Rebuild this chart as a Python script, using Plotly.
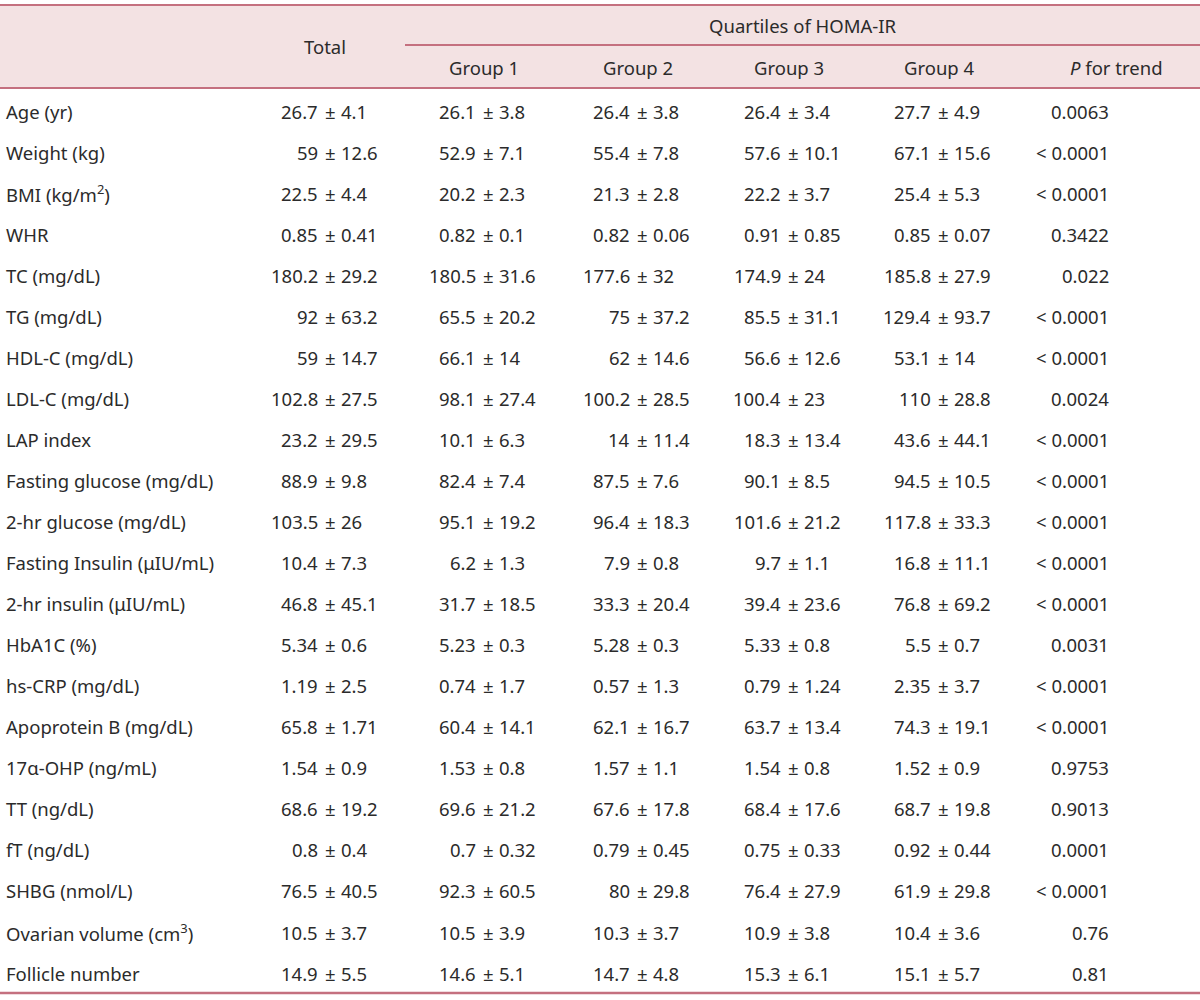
import plotly.graph_objects as go

# ---------------- data ----------------
row_labels = [
    "Age (yr)", "Weight (kg)", "BMI (kg/m<sup>2</sup>)", "WHR", "TC (mg/dL)", "TG (mg/dL)",
    "HDL-C (mg/dL)", "LDL-C (mg/dL)", "LAP index", "Fasting glucose (mg/dL)",
    "2-hr glucose (mg/dL)", "Fasting Insulin (μIU/mL)", "2-hr insulin (μIU/mL)",
    "HbA1C (%)", "hs-CRP (mg/dL)", "Apoprotein B (mg/dL)", "17α-OHP (ng/mL)",
    "TT (ng/dL)", "fT (ng/dL)", "SHBG (nmol/L)", "Ovarian volume (cm<sup>3</sup>)",
    "Follicle number",
]
total = ["26.7 ± 4.1", "59 ± 12.6", "22.5 ± 4.4", "0.85 ± 0.41", "180.2 ± 29.2", "92 ± 63.2",
         "59 ± 14.7", "102.8 ± 27.5", "23.2 ± 29.5", "88.9 ± 9.8", "103.5 ± 26", "10.4 ± 7.3",
         "46.8 ± 45.1", "5.34 ± 0.6", "1.19 ± 2.5", "65.8 ± 1.71", "1.54 ± 0.9", "68.6 ± 19.2",
         "0.8 ± 0.4", "76.5 ± 40.5", "10.5 ± 3.7", "14.9 ± 5.5"]
group1 = ["26.1 ± 3.8", "52.9 ± 7.1", "20.2 ± 2.3", "0.82 ± 0.1", "180.5 ± 31.6", "65.5 ± 20.2",
          "66.1 ± 14", "98.1 ± 27.4", "10.1 ± 6.3", "82.4 ± 7.4", "95.1 ± 19.2", "6.2 ± 1.3",
          "31.7 ± 18.5", "5.23 ± 0.3", "0.74 ± 1.7", "60.4 ± 14.1", "1.53 ± 0.8", "69.6 ± 21.2",
          "0.7 ± 0.32", "92.3 ± 60.5", "10.5 ± 3.9", "14.6 ± 5.1"]
group2 = ["26.4 ± 3.8", "55.4 ± 7.8", "21.3 ± 2.8", "0.82 ± 0.06", "177.6 ± 32", "75 ± 37.2",
          "62 ± 14.6", "100.2 ± 28.5", "14 ± 11.4", "87.5 ± 7.6", "96.4 ± 18.3", "7.9 ± 0.8",
          "33.3 ± 20.4", "5.28 ± 0.3", "0.57 ± 1.3", "62.1 ± 16.7", "1.57 ± 1.1", "67.6 ± 17.8",
          "0.79 ± 0.45", "80 ± 29.8", "10.3 ± 3.7", "14.7 ± 4.8"]
group3 = ["26.4 ± 3.4", "57.6 ± 10.1", "22.2 ± 3.7", "0.91 ± 0.85", "174.9 ± 24", "85.5 ± 31.1",
          "56.6 ± 12.6", "100.4 ± 23", "18.3 ± 13.4", "90.1 ± 8.5", "101.6 ± 21.2", "9.7 ± 1.1",
          "39.4 ± 23.6", "5.33 ± 0.8", "0.79 ± 1.24", "63.7 ± 13.4", "1.54 ± 0.8", "68.4 ± 17.6",
          "0.75 ± 0.33", "76.4 ± 27.9", "10.9 ± 3.8", "15.3 ± 6.1"]
group4 = ["27.7 ± 4.9", "67.1 ± 15.6", "25.4 ± 5.3", "0.85 ± 0.07", "185.8 ± 27.9", "129.4 ± 93.7",
          "53.1 ± 14", "110 ± 28.8", "43.6 ± 44.1", "94.5 ± 10.5", "117.8 ± 33.3", "16.8 ± 11.1",
          "76.8 ± 69.2", "5.5 ± 0.7", "2.35 ± 3.7", "74.3 ± 19.1", "1.52 ± 0.9", "68.7 ± 19.8",
          "0.92 ± 0.44", "61.9 ± 29.8", "10.4 ± 3.6", "15.1 ± 5.7"]
p_trend = ["0.0063", "< 0.0001", "< 0.0001", "0.3422", "0.022", "< 0.0001", "< 0.0001", "0.0024",
           "< 0.0001", "< 0.0001", "< 0.0001", "< 0.0001", "< 0.0001", "0.0031", "< 0.0001",
           "< 0.0001", "0.9753", "0.9013", "0.0001", "< 0.0001", "0.76", "0.81"]
group_headers = ["Total", "Group 1", "Group 2", "Group 3", "Group 4"]
span_header = "Quartiles of HOMA-IR"
p_header = "<i>P</i> for trend"

# ---------------- layout constants ----------------
W, H = 1200, 1000
FONT = "Noto Sans"
FS = 18.5
TXT = "#2b2b2b"
LINE = "#c4707f"
BAND = "#f3e2e3"
col_anchor = [330, 488, 642, 793, 943]   # ± alignment positions
p_right = 1111
p_center = 1116
label_x = 4
row_y0, row_dy = 111, 41.05
top_y, mid_y, head_y, bot_y = 5, 45, 88, 993
span_x0 = 405

fig = go.Figure()
ann = []

def add(x, y, text, xa="center"):
    ann.append(dict(x=x, y=y, xref="x", yref="y", text=text, showarrow=False,
                    xanchor=xa, yanchor="middle",
                    font=dict(family=FONT, size=FS, color=TXT)))

columns = [total, group1, group2, group3, group4]
for i, lab in enumerate(row_labels):
    y = row_y0 + i * row_dy
    add(label_x, y, lab, "left")
    for c, col in enumerate(columns):
        left, right = [s.strip() for s in col[i].split("±")]
        ax = col_anchor[c]
        add(ax - 10, y, left, "right")
        add(ax, y, "±", "center")
        add(ax + 9, y, right, "left")
    add(p_right, y, p_trend[i], "right")

# headers
add(col_anchor[0] - 5, 46, group_headers[0])
add((span_x0 + W) / 2, 25, span_header)
for c in range(1, 5):
    add(col_anchor[c] - 4, 67, group_headers[c])
add(p_center, 67, p_header)

shapes = [
    dict(type="rect", xref="x", yref="y", x0=0, x1=W, y0=top_y, y1=head_y,
         fillcolor=BAND, line=dict(width=0), layer="below"),
    dict(type="line", xref="x", yref="y", x0=0, x1=W, y0=top_y, y1=top_y,
         line=dict(color=LINE, width=2)),
    dict(type="line", xref="x", yref="y", x0=span_x0, x1=W, y0=mid_y, y1=mid_y,
         line=dict(color=LINE, width=2)),
    dict(type="line", xref="x", yref="y", x0=0, x1=W, y0=head_y, y1=head_y,
         line=dict(color=LINE, width=2)),
    dict(type="line", xref="x", yref="y", x0=0, x1=W, y0=bot_y, y1=bot_y,
         line=dict(color=LINE, width=2.5)),
]

fig.update_layout(
    width=W, height=H,
    margin=dict(l=0, r=0, t=0, b=0),
    paper_bgcolor="white", plot_bgcolor="white",
    xaxis=dict(range=[0, W], visible=False, fixedrange=True),
    yaxis=dict(range=[H, 0], visible=False, fixedrange=True),
    annotations=ann, shapes=shapes, showlegend=False,
)
fig.write_html("out.html", config={"displayModeBar": False},
               post_script="document.body.style.margin='0';document.body.style.overflow='hidden';")
